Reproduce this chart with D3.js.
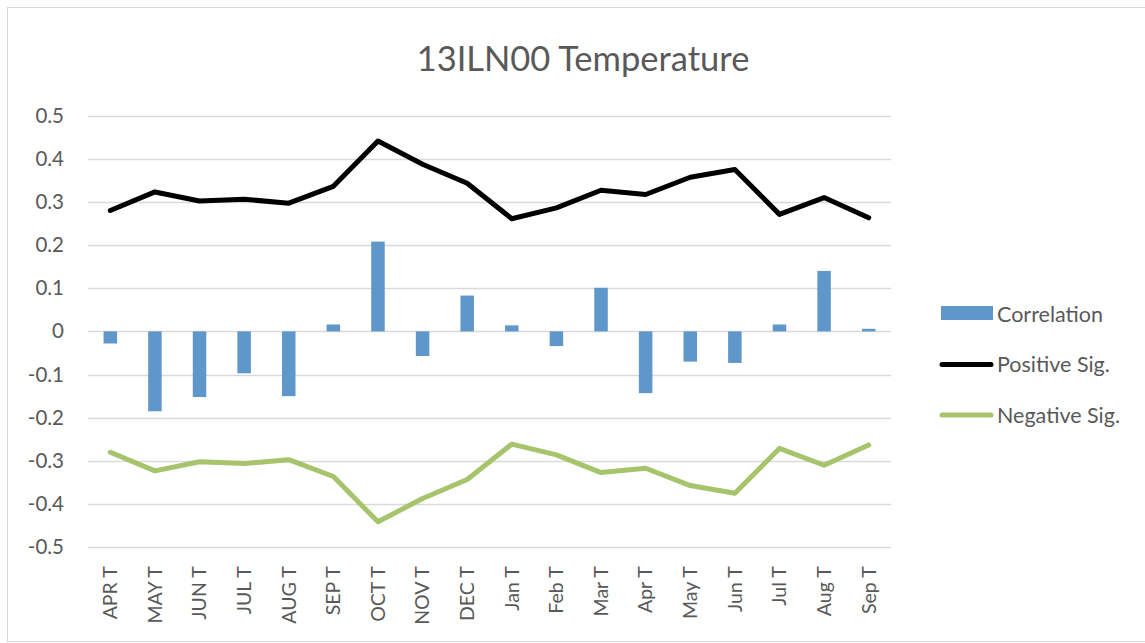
<!DOCTYPE html>
<html>
<head>
<meta charset="utf-8">
<script src="https://cdn.jsdelivr.net/npm/d3@7"></script>
<style>
  body { margin: 0; background: #fff; }
  text { font-family: Lato, "Open Sans", sans-serif; fill: #595959; }
</style>
</head>
<body>
<div class="content"></div>
<script>
var size = {width: 1145, height: 643};
var padding = {left: 88, right: 254, top: 115.5, bottom: 95.7};

var categories = ["APR T", "MAY T", "JUN T", "JUL T", "AUG T", "SEP T", "OCT T", "NOV T", "DEC T",
                  "Jan T", "Feb T", "Mar T", "Apr T", "May T", "Jun T", "Jul T", "Aug T", "Sep T"];
var correlation = [-0.028, -0.185, -0.152, -0.097, -0.150, 0.016, 0.208, -0.057, 0.083,
                   0.014, -0.034, 0.101, -0.143, -0.070, -0.073, 0.016, 0.140, 0.006];
var positiveSig = [0.280, 0.323, 0.302, 0.306, 0.297, 0.336, 0.441, 0.387, 0.343,
                   0.261, 0.286, 0.327, 0.317, 0.357, 0.375, 0.271, 0.310, 0.263];
var negativeSig = [-0.280, -0.323, -0.302, -0.306, -0.297, -0.336, -0.441, -0.387, -0.343,
                   -0.261, -0.286, -0.327, -0.317, -0.357, -0.375, -0.271, -0.310, -0.263];
var yTicks = [0.5, 0.4, 0.3, 0.2, 0.1, 0, -0.1, -0.2, -0.3, -0.4, -0.5];

var colors = {bar: "#5f97cb", pos: "#000000", neg: "#a6c46b", grid: "#d9d9d9"};

var chart = d3.select('.content')
    .append('svg')
    .attr('width', size.width)
    .attr('height', size.height);

// chart area border
chart.append('rect')
    .attr('x', 7.5).attr('y', 7.5)
    .attr('width', size.width)
    .attr('height', 634)
    .attr('fill', '#fff')
    .attr('stroke', '#d9d9d9')
    .attr('stroke-width', 1);

chart.append('text')
    .attr('x', 583)
    .attr('y', 71)
    .attr('text-anchor', 'middle')
    .style('font-size', '34.5px')
    .text('13ILN00 Temperature');

var xScale = d3.scaleBand()
    .domain(categories)
    .range([padding.left, size.width - padding.right]);
var yScale = d3.scaleLinear()
    .domain([-0.5, 0.5])
    .range([size.height - padding.bottom, padding.top]);

// gridlines
chart.append('g')
    .selectAll('line')
    .data(yTicks)
    .enter().append('line')
    .attr('x1', padding.left)
    .attr('x2', size.width - padding.right)
    .attr('y1', function(d) { return Math.round(yScale(d)) + 0.5; })
    .attr('y2', function(d) { return Math.round(yScale(d)) + 0.5; })
    .attr('stroke', colors.grid)
    .attr('stroke-width', 1.5);

// y axis labels (plain hyphen as minus sign)
var yAxis = d3.axisLeft(yScale)
    .tickValues(yTicks)
    .tickSize(0)
    .tickPadding(24)
    .tickFormat(function(d) { return d === 0 ? "0" : d.toFixed(1); });
var yAxisObj = chart.append('g')
    .attr('transform', 'translate(' + padding.left + ',0)')
    .call(yAxis);
yAxisObj.select('.domain').remove();
yAxisObj.selectAll('text').style('font-size', '20.5px').attr('fill', '#595959');

// x axis labels (rotated)
var xAxis = d3.axisBottom(xScale).tickSize(0).tickPadding(0);
var xAxisObj = chart.append('g')
    .attr('transform', 'translate(0,' + (size.height - padding.bottom) + ')')
    .call(xAxis);
xAxisObj.select('.domain').remove();
xAxisObj.selectAll('text')
    .style('font-size', '19.5px')
    .attr('fill', '#595959')
    .attr('text-anchor', 'end')
    .attr('transform', 'rotate(-90)')
    .attr('x', -19)
    .attr('y', 0)
    .attr('dy', '0.35em');

// correlation bars
var barW = 13.5;
chart.append('g')
    .selectAll('rect')
    .data(correlation)
    .enter().append('rect')
    .attr('x', function(d, i) { return xScale(categories[i]) + xScale.bandwidth() / 2 - barW / 2; })
    .attr('y', function(d) { return yScale(Math.max(0, d)); })
    .attr('width', barW)
    .attr('height', function(d) { return Math.abs(yScale(d) - yScale(0)); })
    .attr('fill', colors.bar);

// significance lines
var line = d3.line()
    .x(function(d, i) { return xScale(categories[i]) + xScale.bandwidth() / 2; })
    .y(function(d) { return yScale(d); });

chart.append('path')
    .datum(negativeSig)
    .attr('d', line)
    .attr('fill', 'none')
    .attr('stroke', colors.neg)
    .attr('stroke-width', 5)
    .attr('stroke-linejoin', 'round')
    .attr('stroke-linecap', 'round');

chart.append('path')
    .datum(positiveSig)
    .attr('d', line)
    .attr('fill', 'none')
    .attr('stroke', colors.pos)
    .attr('stroke-width', 5)
    .attr('stroke-linejoin', 'round')
    .attr('stroke-linecap', 'round');

// legend
var legendItems = [
    {name: 'Correlation', type: 'bar', color: colors.bar},
    {name: 'Positive Sig.', type: 'line', color: colors.pos},
    {name: 'Negative Sig.', type: 'line', color: colors.neg}
];
var legend = chart.append('g');
var item = legend.selectAll('g')
    .data(legendItems)
    .enter().append('g')
    .attr('transform', function(d, i) { return 'translate(941,' + (314 + i * 50.5) + ')'; });
item.filter(function(d) { return d.type === 'bar'; })
    .append('rect')
    .attr('x', 0).attr('y', -8)
    .attr('width', 52).attr('height', 14)
    .attr('fill', function(d) { return d.color; });
item.filter(function(d) { return d.type === 'line'; })
    .append('line')
    .attr('x1', 1).attr('x2', 50)
    .attr('y1', 0).attr('y2', 0)
    .attr('stroke', function(d) { return d.color; })
    .attr('stroke-width', 5)
    .attr('stroke-linecap', 'round');
item.append('text')
    .attr('x', 56)
    .attr('y', 0)
    .attr('dy', '0.35em')
    .style('font-size', '21.5px')
    .text(function(d) { return d.name; });
</script>
</body>
</html>
